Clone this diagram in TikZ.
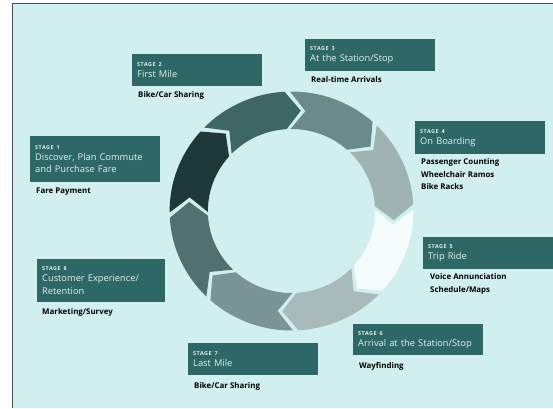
\documentclass[tikz,border=0pt]{standalone}
\usepackage{fontspec}
\setmainfont{Open Sans}
\newfontfamily\stagefont[LetterSpace=10]{Open Sans}

\definecolor{paper}{RGB}{208,239,238}
\definecolor{framegray}{RGB}{70,80,80}
\definecolor{boxteal}{RGB}{46,104,102}
\definecolor{boxtext}{RGB}{225,240,238}
\definecolor{segA}{RGB}{30,57,56}
\definecolor{segB}{RGB}{62,102,100}
\definecolor{segC}{RGB}{106,139,138}
\definecolor{segD}{RGB}{158,179,178}
\definecolor{segE}{RGB}{246,252,252}
\definecolor{segF}{RGB}{168,187,186}
\definecolor{segG}{RGB}{122,149,148}
\definecolor{segH}{RGB}{80,113,112}

% ring geometry: radii, half gap and chevron depth (degrees)
\def\Ro{119.5}
\def\Ri{82}
\def\Rm{100.75}
\def\gp{1.3}
\def\dl{8.5}
% one chevron piece of the ring, from its tail angle #1 clockwise by 45 degrees
\newcommand\ringpiece[2]{%
  \fill[#2] ({#1-\gp}:\Ro)
    arc[start angle={#1-\gp}, end angle={#1-45+\gp}, radius=\Ro]
    -- ({#1-45+\gp-\dl}:\Rm)
    -- ({#1-45+\gp}:\Ri)
    arc[start angle={#1-45+\gp}, end angle={#1-\gp}, radius=\Ri]
    -- ({#1-\gp-\dl}:\Rm) -- cycle;}

\newcommand\stg[1]{{\stagefont\bfseries\fontsize{5.4}{6}\selectfont STAGE #1}\\[-1.5pt]}

\begin{document}
\begin{tikzpicture}[x=1pt,y=-1pt,
  stagebox/.style={fill=boxteal, text=boxtext, anchor=north west,
    minimum width=130pt, text width=120pt, inner xsep=5pt, inner ysep=0pt,
    align=left, font=\fontsize{9.3}{12.5}\selectfont},
  tools/.style={anchor=north west, inner sep=0pt, align=left, text=black,
    font=\fontsize{7.9}{12.5}\selectfont\bfseries}]
\useasboundingbox (0,0) rectangle (553,408);
\fill[white] (0,0) rectangle (553,408);
\fill[paper] (12,3) rectangle (553,408);
\draw[framegray, line width=1pt] (12,408) -- (12,3) -- (553,3);

% the cycle of eight stages
\begin{scope}[shift={(291.5,211)}, yscale=-1, xscale=1.02]
  \ringpiece{182}{segA}
  \ringpiece{137}{segB}
  \ringpiece{92}{segC}
  \ringpiece{47}{segD}
  \ringpiece{2}{segE}
  \ringpiece{-43}{segF}
  \ringpiece{-88}{segG}
  \ringpiece{-133}{segH}
\end{scope}

% stage boxes
\node[stagebox, minimum height=46pt] (s1) at (30,136) {\stg{1}Discover, Plan Commute\\and Purchase Fare};
\node[stagebox, minimum height=32pt] (s2) at (132,54) {\stg{2}First Mile};
\node[stagebox, minimum height=32pt] (s3) at (305,39) {\stg{3}At the Station/Stop};
\node[stagebox, minimum height=33pt] (s4) at (415,121) {\stg{4}On Boarding};
\node[stagebox, minimum height=32pt] (s5) at (423,237) {\stg{5}Trip Ride};
\node[stagebox, minimum height=31pt] (s6) at (353,324) {\stg{6}Arrival at the Station/Stop};
\node[stagebox, minimum height=32pt] (s7) at (188,343) {\stg{7}Last Mile};
\node[stagebox, minimum height=43pt, minimum width=128pt, text width=118pt] (s8) at (37,259) {\stg{8}Customer Experience/\\Retention};

% technologies under each stage
\node[tools] (l1) at ([xshift=6pt,yshift=-5pt]s1.south west) {Fare Payment};
\node[tools] (l2) at ([xshift=6pt,yshift=-5pt]s2.south west) {Bike/Car Sharing};
\node[tools] (l3) at ([xshift=6pt,yshift=-5pt]s3.south west) {Real-time Arrivals};
\node[tools] (l4) at ([xshift=6pt,yshift=-4pt]s4.south west) {Passenger Counting\\Wheelchair Ramos\\Bike Racks};
\node[tools] (l5) at ([xshift=7pt,yshift=-4pt]s5.south west) {Voice Annunciation\\Schedule/Maps};
\node[tools] (l6) at ([xshift=6pt,yshift=-7pt]s6.south west) {Wayfinding};
\node[tools] (l7) at ([xshift=6pt,yshift=-7pt]s7.south west) {Bike/Car Sharing};
\node[tools] (l8) at ([xshift=5pt,yshift=-6pt]s8.south west) {Marketing/Survey};
\end{tikzpicture}
\end{document}
